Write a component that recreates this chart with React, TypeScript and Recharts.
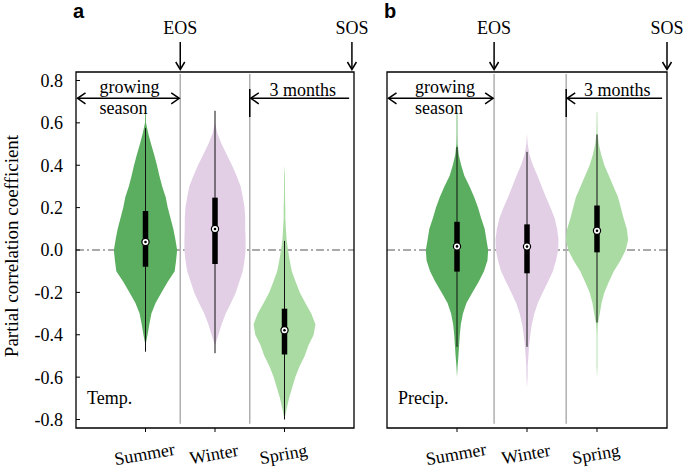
import {
  ComposedChart,
  Area,
  XAxis,
  YAxis,
  ReferenceLine,
  ReferenceDot,
  ReferenceArea,
} from "recharts";

const FONT = "'Liberation Serif', 'Times New Roman', serif";

const categories = ["Summer", "Winter", "Spring"];
const positions = [1, 2, 3];
const yTicks = [-0.8, -0.6, -0.4, -0.2, 0, 0.2, 0.4, 0.6, 0.8];

// y levels at which the violin half-widths (in x units) are read
const levels = [
  0.65, 0.6, 0.55, 0.5, 0.45, 0.4, 0.35, 0.3, 0.25, 0.2, 0.15, 0.1, 0.05, 0,
  -0.05, -0.1, -0.15, -0.2, -0.25, -0.3, -0.35, -0.4, -0.45, -0.5, -0.55, -0.6,
  -0.65, -0.7, -0.75, -0.8,
];

// panel a: temperature
const tempSummer = [
  0.005, 0.007, 0.04, 0.08, 0.125, 0.165, 0.2, 0.24, 0.29, 0.32, 0.36, 0.4,
  0.43, 0.455, 0.44, 0.42, 0.32, 0.23, 0.145, 0.085, 0.055, 0.03, 0, null, null,
  null, null, null, null, null,
];
const tempWinter = [
  null, 0, 0.035, 0.095, 0.17, 0.245, 0.31, 0.37, 0.4, 0.425, 0.435, 0.435,
  0.44, 0.44, 0.425, 0.4, 0.35, 0.3, 0.23, 0.155, 0.095, 0.05, 0, null, null,
  null, null, null, null, null,
];
const tempSpring = [
  null, null, null, null, null, 0, 0.006, 0.007, 0.008, 0.012, 0.012, 0.02,
  0.03, 0.05, 0.075, 0.105, 0.16, 0.22, 0.3, 0.385, 0.445, 0.42, 0.345, 0.29,
  0.215, 0.155, 0.11, 0.065, 0.03, 0,
];
const tempQ1 = [-0.079, -0.066, -0.493];
const tempQ3 = [0.184, 0.247, -0.277];
const tempMedian = [0.038, 0.099, -0.379];
const tempLow = [-0.48, -0.487, -0.8];
const tempHigh = [0.575, 0.657, 0.043];

// panel b: precipitation
const precipSummer = [
  0.005, 0.006, 0.006, 0.008, 0.025, 0.06, 0.105, 0.18, 0.245, 0.3, 0.345,
  0.395, 0.42, 0.445, 0.435, 0.385, 0.31, 0.22, 0.135, 0.085, 0.055, 0.04, 0.03,
  0.02, 0.008, 0, null, null, null, null,
];
const precipWinter = [
  null, null, 0, 0.01, 0.035, 0.085, 0.15, 0.21, 0.27, 0.335, 0.395, 0.43,
  0.45, 0.445, 0.415, 0.37, 0.3, 0.225, 0.155, 0.105, 0.07, 0.048, 0.03, 0.02,
  0.01, 0.008, 0, null, null, null,
];
const precipSpring = [
  0.005, 0.006, 0.008, 0.025, 0.06, 0.105, 0.17, 0.235, 0.3, 0.34, 0.38, 0.425,
  0.445, 0.41, 0.335, 0.24, 0.17, 0.105, 0.065, 0.04, 0.012, 0.006, 0.006,
  0.006, 0.006, 0, null, null, null, null,
];
const precipQ1 = [-0.102, -0.11, -0.011];
const precipQ3 = [0.133, 0.121, 0.21];
const precipMedian = [0.017, 0.016, 0.091];
const precipLow = [-0.457, -0.457, -0.342];
const precipHigh = [0.485, 0.463, 0.545];

const colors = ["#5bae5f", "#e2cfe6", "#a9dba2"];

const X_DOMAIN: [number, number] = [0, 4];
const Y_DOMAIN: [number, number] = [-0.84, 0.84];

const SeasonTick = (props: any) => {
  const { x, y, payload } = props;
  const ty = y + 26;
  return (
    <text
      x={x}
      y={ty}
      textAnchor="middle"
      fontFamily={FONT}
      fontSize={18}
      fill="#000"
      transform={`rotate(-10 ${x} ${ty})`}
    >
      {categories[payload.value - 1]}
    </text>
  );
};

interface PanelProps {
  widths: (number | null)[][];
  q1: number[];
  q3: number[];
  median: number[];
  low: number[];
  high: number[];
  dividers: number[];
  left: number;
  width: number;
  marginLeft: number;
  marginRight: number;
  yAxisWidth: number;
  yLabels: boolean;
}

const ViolinPanel = ({
  widths,
  q1,
  q3,
  median,
  low,
  high,
  dividers,
  left,
  width,
  marginLeft,
  marginRight,
  yAxisWidth,
  yLabels,
}: PanelProps) => {
  const data = levels.map((y, i) => {
    const row: Record<string, any> = { y };
    widths.forEach((w, k) => {
      const hw = w[i];
      row[`s${k}`] = hw == null ? null : [positions[k] - hw, positions[k] + hw];
    });
    return row;
  });

  return (
    <div style={{ position: "absolute", left, top: 0 }}>
      <ComposedChart
        layout="vertical"
        width={width}
        height={470}
        data={data}
        margin={{ top: 62, right: marginRight, bottom: 2, left: marginLeft }}
      >
        <XAxis
          xAxisId="top"
          orientation="top"
          type="number"
          domain={X_DOMAIN}
          allowDataOverflow
          ticks={positions}
          tick={false}
          tickSize={-4}
          axisLine={false}
          height={10}
          stroke="#000"
        />
        <XAxis
          type="number"
          domain={X_DOMAIN}
          allowDataOverflow
          ticks={positions}
          tick={<SeasonTick />}
          tickSize={4}
          axisLine={false}
          height={40}
          stroke="#000"
        />
        <YAxis
          type="number"
          dataKey="y"
          reversed
          domain={Y_DOMAIN}
          allowDataOverflow
          ticks={yTicks}
          tickFormatter={(v: number) => v.toFixed(1)}
          tick={
            yLabels
              ? { fontFamily: FONT, fontSize: 18, fill: "#000" }
              : false
          }
          tickSize={-4}
          tickMargin={17}
          axisLine={false}
          width={yAxisWidth}
          stroke="#000"
        />
        <ReferenceLine
          y={0}
          stroke="#555"
          strokeWidth={1}
          strokeDasharray="8 3 2 3"
          zIndex={50}
        />
        {dividers.map((d) => (
          <ReferenceLine
            key={`div-${d}`}
            segment={[
              { x: d, y: 0.83 },
              { x: d, y: -0.82 },
            ]}
            stroke="#b0b0b0"
            strokeWidth={1.5}
            zIndex={60}
          />
        ))}
        {widths.map((_, k) => (
          <Area
            key={`violin-${k}`}
            dataKey={`s${k}`}
            type="linear"
            stroke="none"
            fill={colors[k]}
            fillOpacity={1}
            dot={false}
            activeDot={false}
            isAnimationActive={false}
          />
        ))}
        {positions.map((p, k) => (
          <ReferenceLine
            key={`whisker-${k}`}
            segment={[
              { x: p, y: low[k] },
              { x: p, y: high[k] },
            ]}
            stroke="#111"
            strokeWidth={1}
          />
        ))}
        {positions.map((p, k) => (
          <ReferenceLine
            key={`iqr-${k}`}
            segment={[
              { x: p, y: q1[k] },
              { x: p, y: q3[k] },
            ]}
            stroke="#000"
            strokeWidth={5.5}
          />
        ))}
        {positions.map((p, k) => (
          <ReferenceDot
            key={`med-${k}`}
            x={p}
            y={median[k]}
            r={3.6}
            fill="#fff"
            stroke="#000"
            strokeWidth={1.2}
          />
        ))}
        {positions.map((p, k) => (
          <ReferenceDot
            key={`medc-${k}`}
            x={p}
            y={median[k]}
            r={1.3}
            fill="#000"
            stroke="none"
          />
        ))}
        <ReferenceArea
          x1={X_DOMAIN[0]}
          x2={X_DOMAIN[1]}
          y1={Y_DOMAIN[0]}
          y2={Y_DOMAIN[1]}
          fill="none"
          fillOpacity={0}
          stroke="#000"
          strokeWidth={1.3}
        />
      </ComposedChart>
    </div>
  );
};

const txt = { fontFamily: FONT, fontSize: 18, fill: "#000" } as const;

const DownArrow = ({ x, label }: { x: number; label: string }) => (
  <g>
    <text x={x} y={34} textAnchor="middle" {...txt}>
      {label}
    </text>
    <line x1={x} y1={42} x2={x} y2={69} stroke="#000" strokeWidth={1.5} />
    <polyline
      points={`${x - 4.5},62 ${x},69.5 ${x + 4.5},62`}
      fill="none"
      stroke="#000"
      strokeWidth={1.5}
    />
  </g>
);

const Annotations = ({
  plotLeft,
  unit,
  eos,
  sos,
  textLeft,
  monthsLeft,
  name,
  panel,
}: {
  plotLeft: number;
  unit: number;
  eos: number;
  sos: number;
  textLeft: number;
  monthsLeft: number;
  name: string;
  panel: string;
}) => {
  const ay = 98.3;
  const xEos = plotLeft + eos * unit;
  const xSos = plotLeft + sos * unit;
  const xStart = plotLeft + 1.5;
  const x3 = plotLeft + 2.5 * unit + (panel === "b" ? 0.06 * unit : 0);
  const x3end = plotLeft + 3.93 * unit;
  return (
    <g>
      <text
        x={plotLeft - 3}
        y={18}
        fontFamily="'Liberation Sans', Arial, sans-serif"
        fontWeight="bold"
        fontSize={20}
        fill="#000"
      >
        {panel}
      </text>
      <DownArrow x={xEos} label="EOS" />
      <DownArrow x={xSos} label="SOS" />
      <line x1={xStart} y1={ay} x2={xEos - 1} y2={ay} stroke="#000" strokeWidth={1.5} />
      <polyline
        points={`${xStart + 8},${ay - 5.5} ${xStart},${ay} ${xStart + 8},${ay + 5.5}`}
        fill="none"
        stroke="#000"
        strokeWidth={1.5}
      />
      <polyline
        points={`${xEos - 9},${ay - 5.5} ${xEos - 1},${ay} ${xEos - 9},${ay + 5.5}`}
        fill="none"
        stroke="#000"
        strokeWidth={1.5}
      />
      <text x={textLeft} y={92.5} {...txt}>
        growing
      </text>
      <text x={textLeft} y={113.5} {...txt}>
        season
      </text>
      <line x1={x3 + 1} y1={ay} x2={x3end} y2={ay} stroke="#000" strokeWidth={1.5} />
      <polyline
        points={`${x3 + 9},${ay - 5.5} ${x3 + 1},${ay} ${x3 + 9},${ay + 5.5}`}
        fill="none"
        stroke="#000"
        strokeWidth={1.5}
      />
      <line x1={x3} y1={89} x2={x3} y2={117} stroke="#000" strokeWidth={1.5} />
      <text x={monthsLeft} y={95.5} {...txt}>
        3 months
      </text>
      <text x={plotLeft + 11} y={403.5} {...txt}>
        {name}
      </text>
    </g>
  );
};

export default function App() {
  return (
    <div
      style={{
        position: "absolute",
        left: 0,
        top: 0,
        width: 685,
        height: 470,
        background: "#fff",
        overflow: "hidden",
      }}
    >
      <ViolinPanel
        widths={[tempSummer, tempWinter, tempSpring]}
        q1={tempQ1}
        q3={tempQ3}
        median={tempMedian}
        low={tempLow}
        high={tempHigh}
        dividers={[1.5, 2.5]}
        left={0}
        width={360}
        marginLeft={36}
        marginRight={6}
        yAxisWidth={40}
        yLabels
      />
      <ViolinPanel
        widths={[precipSummer, precipWinter, precipSpring]}
        q1={precipQ1}
        q3={precipQ3}
        median={precipMedian}
        low={precipLow}
        high={precipHigh}
        dividers={[1.53, 2.56]}
        left={350}
        width={335}
        marginLeft={27}
        marginRight={18}
        yAxisWidth={10}
        yLabels={false}
      />
      <svg
        width={685}
        height={470}
        style={{ position: "absolute", left: 0, top: 0, pointerEvents: "none" }}
      >
        <text
          transform="rotate(-90)"
          x={-246}
          y={18}
          textAnchor="middle"
          {...txt}
          fontSize={19}
        >
          Partial correlation coefficient
        </text>
        <Annotations
          plotLeft={76}
          unit={69.5}
          eos={1.5}
          sos={3.97}
          textLeft={99.5}
          monthsLeft={269.5}
          name="Temp."
          panel="a"
        />
        <Annotations
          plotLeft={387}
          unit={70}
          eos={1.53}
          sos={4}
          textLeft={415}
          monthsLeft={584}
          name="Precip."
          panel="b"
        />
      </svg>
    </div>
  );
}
